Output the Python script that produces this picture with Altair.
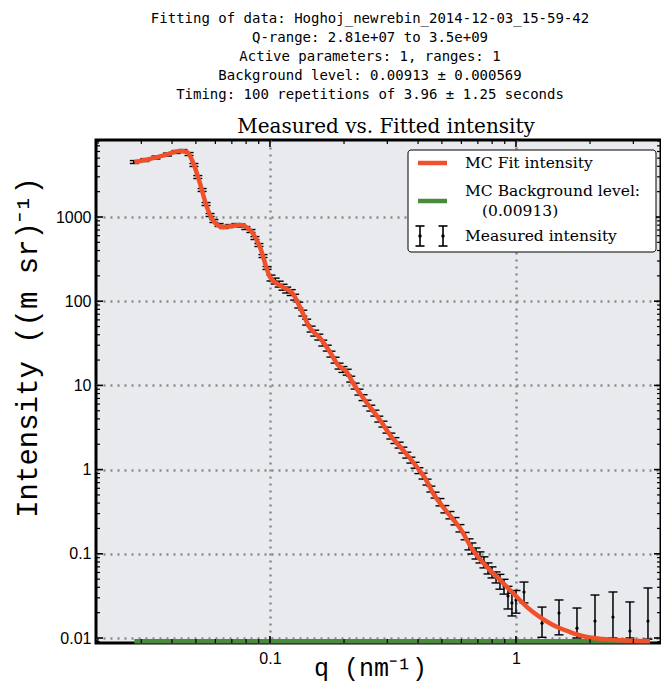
import altair as alt
import pandas as pd

# ---------------- text ----------------
header_lines = [
    "Fitting of data: Hoghoj_newrebin_2014-12-03_15-59-42",
    "Q-range: 2.81e+07 to 3.5e+09",
    "Active parameters: 1, ranges: 1",
    "Background level: 0.00913 \u00b1 0.000569",
    "Timing: 100 repetitions of 3.96 \u00b1 1.25 seconds",
]
plot_title = "Measured vs. Fitted intensity"
x_title = "q (nm\u207b\u00b9)"
y_title = "Intensity ((m sr)\u207b\u00b9)"
legend_labels = ["MC Fit intensity", "MC Background level:", "(0.00913)", "Measured intensity"]

# ---------------- data ----------------
fit_q = [0.0281, 0.0325, 0.0374, 0.0431, 0.046, 0.0486, 0.0519, 0.0554, 0.0598, 0.0644,
         0.0701, 0.0755, 0.083, 0.091, 0.100, 0.113, 0.124, 0.1324, 0.1455, 0.1597,
         0.1754, 0.189, 0.2055, 0.2174, 0.2479, 0.280, 0.3076, 0.3474, 0.396, 0.4266,
         0.460, 0.525, 0.592, 0.668, 0.762, 0.861, 0.972, 1.109, 1.252, 1.413,
         1.658, 1.944, 2.259, 2.649, 3.5]
fit_I = [4500, 4890, 5440, 6080, 5920, 4500, 2535, 1315, 850, 761,
         782, 804, 701, 441, 194, 147, 122, 85, 48, 36.6,
         24.9, 17.5, 14.4, 10.7, 6.18, 3.88, 2.58, 1.71, 1.07, 0.794,
         0.527, 0.313, 0.202, 0.111, 0.0697, 0.0489, 0.0342, 0.0233, 0.0177, 0.01426,
         0.01178, 0.01027, 0.00973, 0.0094, 0.0092]

meas_q = [0.0281, 0.0310, 0.0344, 0.0383, 0.0415, 0.0443, 0.0469, 0.0491, 0.0509, 0.0530,
          0.0550, 0.0571, 0.0592, 0.0621, 0.0650, 0.0687, 0.0727, 0.0762, 0.0798, 0.0837,
          0.0869, 0.0902, 0.0937, 0.0973, 0.101, 0.105, 0.109, 0.113, 0.117, 0.122,
          0.126, 0.131, 0.136, 0.141, 0.147, 0.152, 0.158, 0.164, 0.171, 0.177,
          0.184, 0.191, 0.198, 0.206, 0.213, 0.222, 0.230, 0.239, 0.248, 0.257,
          0.267, 0.277, 0.288, 0.299, 0.310, 0.322, 0.335, 0.347, 0.360, 0.374,
          0.389, 0.403, 0.419, 0.435, 0.451, 0.469, 0.491, 0.514, 0.539, 0.565,
          0.592, 0.621, 0.644, 0.662, 0.688, 0.714, 0.741, 0.770, 0.799, 0.830,
          0.861, 0.894, 0.928, 0.963, 1.000]
meas_I = [4500, 4750, 5090, 5520, 5920, 6080, 5600, 4150, 2985, 2094,
          1427, 1057, 896, 804, 761, 782, 804, 793, 740, 682,
          563, 465, 344, 248, 189, 174, 160, 147, 136, 127,
          112, 90.2, 72.4, 56.6, 46.8, 41.9, 37.6, 31.9, 27.8, 23.6,
          20.0, 17.0, 15.5, 14.4, 11.9, 9.84, 8.35, 7.18, 6.18, 5.39,
          4.70, 3.99, 3.48, 2.95, 2.51, 2.22, 1.96, 1.71, 1.49, 1.30,
          1.13, 0.975, 0.840, 0.713, 0.589, 0.499, 0.412, 0.340, 0.289, 0.245,
          0.202, 0.163, 0.131, 0.117, 0.102, 0.0916, 0.080, 0.0678, 0.0608, 0.053,
          0.0475, 0.0415, 0.0316, 0.0261, 0.0282]
meas_rel_err = [0.04] * 24 + [0.08] * 42 + [0.10] * 6 + [0.15] * 8 + [0.20] * 2 + [0.30] * 3

tail_q = [1.078, 1.276, 1.496, 1.770, 2.095, 2.479, 2.905, 3.44]
tail_I = [0.0352, 0.0150, 0.0198, 0.0131, 0.0159, 0.0177, 0.0121, 0.0159]
tail_lo = [0.0261, 0.0102, 0.0109, 0.0100, 0.0100, 0.0100, 0.0100, 0.0097]
tail_hi = [0.0462, 0.0233, 0.0283, 0.0227, 0.0324, 0.0352, 0.0268, 0.0393]

background_level = 0.00913
q_range = [0.0281, 3.5]

x_ticks = [0.1, 1]
y_ticks = [0.01, 0.1, 1, 10, 100, 1000]
X_DOMAIN = [0.01963, 3.886]
Y_DOMAIN = [0.008723, 8213]
x_minor = [k * 10.0 ** e for e in (-2, -1, 0) for k in range(2, 10)
           if X_DOMAIN[0] < k * 10.0 ** e < X_DOMAIN[1]]
y_minor = [k * 10.0 ** e for e in range(-3, 4) for k in range(2, 10)
           if Y_DOMAIN[0] < k * 10.0 ** e < Y_DOMAIN[1]]

# ---------------- tables ----------------
fit_df = pd.DataFrame({"q": fit_q, "I": fit_I})
meas_df = pd.DataFrame({
    "q": meas_q + tail_q,
    "I": meas_I + tail_I,
    "lo": [i * (1 - r) for i, r in zip(meas_I, meas_rel_err)] + tail_lo,
    "hi": [i * (1 + r) for i, r in zip(meas_I, meas_rel_err)] + tail_hi,
})
bg_df = pd.DataFrame({"q": q_range, "I": [background_level] * len(q_range)})
one = pd.DataFrame({"a": [0]})

# ---------------- style ----------------
W, H = 565, 503
RED = "#f0512b"
GREEN = "#4a8a3c"
BG = "#e8eaee"
GRID = "#8a8a8a"

xs = alt.Scale(type="log", domain=X_DOMAIN, nice=False, zero=False)
ys = alt.Scale(type="log", domain=Y_DOMAIN, nice=False, zero=False)

x_axis = alt.Axis(values=x_ticks, format="~g", grid=True, gridDash=[2, 5], gridColor=GRID,
                  gridWidth=2.5, ticks=False, domain=False, labelFont="Liberation Sans",
                  labelFontSize=16, labelColor="black", labelPadding=7,
                  title=x_title, titleFont="Liberation Mono", titleFontSize=25,
                  titleFontWeight="normal", titleColor="black", titleX=274, titleY=32,
                  titleBaseline="alphabetic", titleAlign="center")
y_axis = alt.Axis(values=y_ticks, format="~g", grid=True, gridDash=[2, 5], gridColor=GRID,
                  gridWidth=2.5, ticks=False, domain=False, labelFont="Liberation Sans",
                  labelFontSize=16, labelColor="black", labelPadding=5,
                  title=y_title, titleFont="Liberation Mono", titleFontSize=29,
                  titleFontWeight="normal", titleColor="black", titleX=-69, titleY=207,
                  titleAngle=270, titleBaseline="middle", titleAlign="center")


def X(field="q"):
    return alt.X(f"{field}:Q", scale=xs, axis=x_axis)


def Y(field="I"):
    return alt.Y(f"{field}:Q", scale=ys, axis=y_axis)


green = alt.Chart(bg_df).mark_line(color=GREEN, strokeWidth=4.5).encode(x=X(), y=Y())

err_rule = alt.Chart(meas_df).mark_rule(color="black", strokeWidth=1.5, clip=True).encode(
    x=X(), y=Y("lo"), y2="hi:Q")
cap_lo = alt.Chart(meas_df).mark_point(shape="M-1,0L1,0", size=81, color="black", filled=False,
                                        strokeWidth=1.4, opacity=1, clip=True).encode(x=X(), y=Y("lo"))
cap_hi = alt.Chart(meas_df).mark_point(shape="M-1,0L1,0", size=81, color="black", filled=False,
                                        strokeWidth=1.4, opacity=1, clip=True).encode(x=X(), y=Y("hi"))
dots = alt.Chart(meas_df).mark_circle(size=10, color="black", opacity=1).encode(x=X(), y=Y())

fit = alt.Chart(fit_df).mark_line(color=RED, strokeWidth=4.5, interpolate="monotone").encode(
    x=X(), y=Y())

# inward ticks
xmaj_df = pd.DataFrame({"q": x_ticks})
xmin_df = pd.DataFrame({"q": x_minor})
ymaj_df = pd.DataFrame({"I": y_ticks})
ymin_df = pd.DataFrame({"I": y_minor})


def xticks(df, length, width):
    bottom = alt.Chart(df).mark_rule(color="black", strokeWidth=width).encode(
        x=X(), y=alt.value(H - length), y2=alt.value(H))
    top = alt.Chart(df).mark_rule(color="black", strokeWidth=width).encode(
        x=X(), y=alt.value(0), y2=alt.value(length))
    return [bottom, top]


def yticks(df, length, width):
    left = alt.Chart(df).mark_rule(color="black", strokeWidth=width).encode(
        y=Y(), x=alt.value(0), x2=alt.value(length))
    right = alt.Chart(df).mark_rule(color="black", strokeWidth=width).encode(
        y=Y(), x=alt.value(W - length), x2=alt.value(W))
    return [left, right]


tick_layers = xticks(xmaj_df, 7, 1.6) + xticks(xmin_df, 4, 1.2) + \
    yticks(ymaj_df, 7, 1.6) + yticks(ymin_df, 4, 1.2)

# legend
box = alt.Chart(one).mark_rect(fill="white", stroke="black", strokeWidth=1, cornerRadius=3).encode(
    x=alt.value(312), x2=alt.value(560), y=alt.value(10), y2=alt.value(112))
leg_red = alt.Chart(one).mark_rule(color=RED, strokeWidth=4.5).encode(
    x=alt.value(322), x2=alt.value(351), y=alt.value(23))
leg_green = alt.Chart(one).mark_rule(color=GREEN, strokeWidth=4.5).encode(
    x=alt.value(322), x2=alt.value(351), y=alt.value(61))
leg_err = []
for cx in (324, 347):
    leg_err.append(alt.Chart(one).mark_rule(color="black", strokeWidth=1.6).encode(
        x=alt.value(cx), y=alt.value(86), y2=alt.value(106)))
    for cy in (86, 106):
        leg_err.append(alt.Chart(one).mark_rule(color="black", strokeWidth=1.6).encode(
            x=alt.value(cx - 4.5), x2=alt.value(cx + 4.5), y=alt.value(cy)))
    leg_err.append(alt.Chart(one).mark_circle(size=12, color="black", opacity=1).encode(
        x=alt.value(cx), y=alt.value(96)))

leg_text = []
for txt, tx, ty in zip(legend_labels, (369, 369, 386, 369), (23, 51, 71, 96)):
    leg_text.append(alt.Chart(one).mark_text(text=txt, font="DejaVu Serif", fontSize=15.5,
                                             align="left", baseline="middle", color="black").encode(
        x=alt.value(tx), y=alt.value(ty)))

header = alt.Chart(pd.DataFrame({"t": ["\n".join(header_lines)]})).mark_text(
    lineBreak="\n", lineHeight=19, font="DejaVu Sans Mono", fontSize=14, align="center",
    baseline="top", color="black").encode(text="t:N", x=alt.value(274), y=alt.value(-128))

title_mark = alt.Chart(one).mark_text(
    text=plot_title, font="DejaVu Serif", fontSize=20, align="center", baseline="middle",
    color="black").encode(x=alt.value(290), y=alt.value(-13))

chart = alt.layer(
    green, err_rule, cap_lo, cap_hi, dots, fit, *tick_layers,
    box, leg_red, leg_green, *leg_err, *leg_text, header, title_mark
).properties(
    width=W, height=H,
    padding={"left": 88, "top": 132, "right": 0, "bottom": 40},
    autosize=alt.AutoSizeParams(type="none"),
).configure(background="white").configure_view(fill=BG, stroke="black", strokeWidth=3)

chart.save("out.html", embed_options={"renderer": "svg", "actions": False})
